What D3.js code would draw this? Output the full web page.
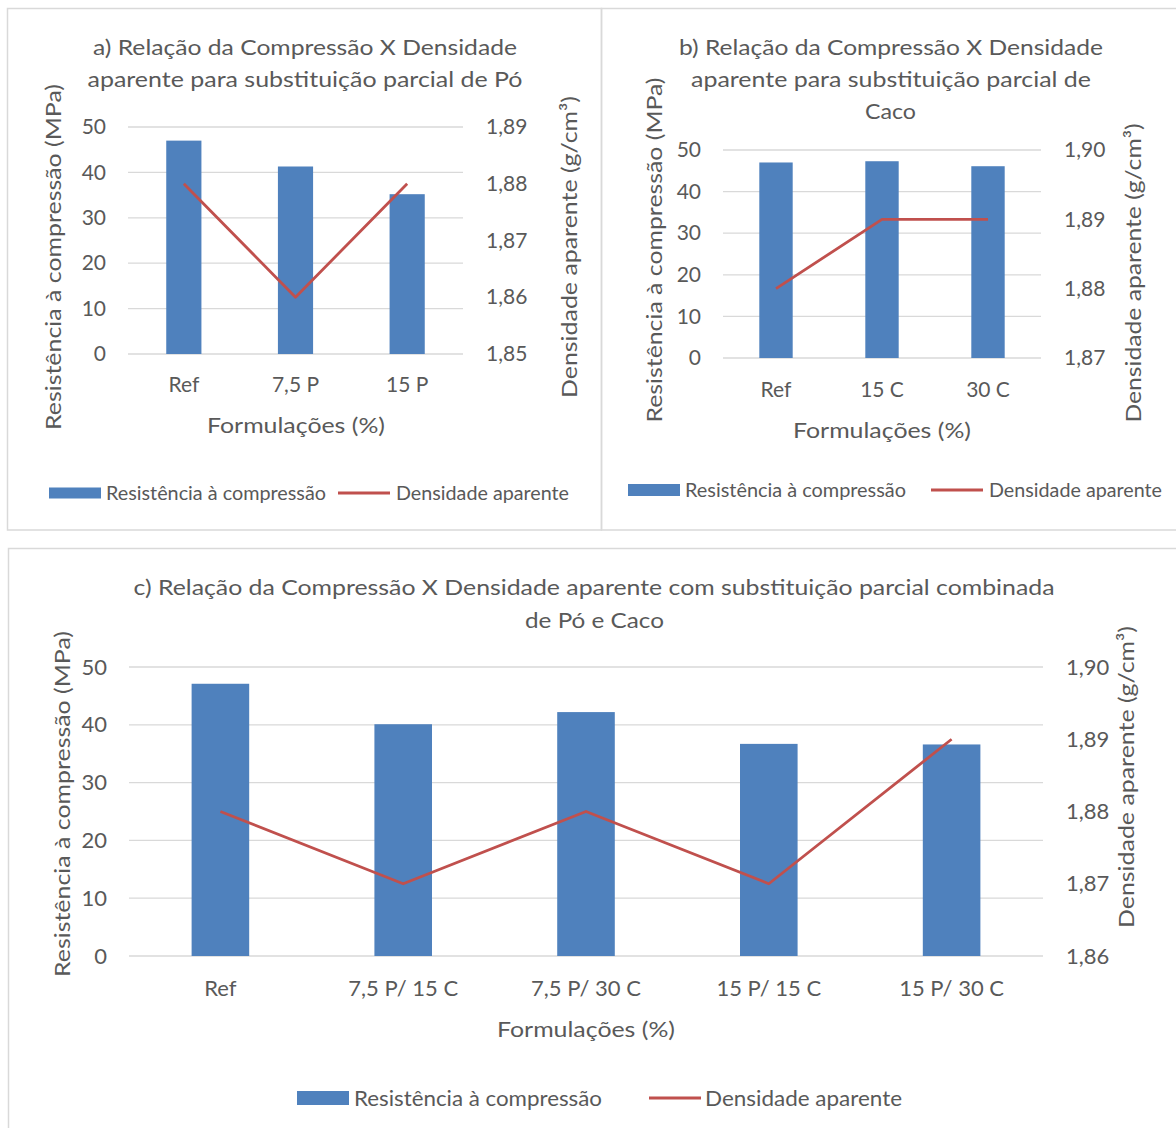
<!DOCTYPE html>
<html><head><meta charset="utf-8">
<script src="https://cdn.jsdelivr.net/npm/d3@7"></script>
<style>
body{margin:0;background:#fff}
svg{display:block}
text{font-family:Lato,'Open Sans',sans-serif;fill:#595959}
</style>
</head><body>
<svg id="chart" width="1176" height="1128"></svg>
<script>
// ---------- DATA ----------
const resTicks = [0, 10, 20, 30, 40, 50];

const catsA = ["Ref", "7,5 P", "15 P"];
const resA = [47.0, 41.3, 35.2];
const densA = [1.88, 1.86, 1.88];
const densTicksA = [1.85, 1.86, 1.87, 1.88, 1.89];
const titleA = ["a) Relação da Compressão X Densidade", "aparente para substituição parcial de Pó"];

const catsB = ["Ref", "15 C", "30 C"];
const resB = [47.0, 47.3, 46.1];
const densB = [1.88, 1.89, 1.89];
const densTicksB = [1.87, 1.88, 1.89, 1.90];
const titleB = ["b) Relação da Compressão X Densidade", "aparente para substituição parcial de", "Caco"];

const catsC = ["Ref", "7,5 P/ 15 C", "7,5 P/ 30 C", "15 P/ 15 C", "15 P/ 30 C"];
const resC = [47.1, 40.1, 42.2, 36.7, 36.6];
const densC = [1.88, 1.87, 1.88, 1.87, 1.89];
const densTicksC = [1.86, 1.87, 1.88, 1.89, 1.90];
const titleC = ["c) Relação da Compressão X Densidade aparente com substituição parcial combinada", "de Pó e Caco"];

const yLabel = "Resistência à compressão (MPa)";
const y2Label = "Densidade aparente (g/cm³)";
const xLabel = "Formulações (%)";
const legendLabels = ["Resistência à compressão", "Densidade aparente"];

// ---------- STYLE ----------
const BAR = "#4F81BD", LINE = "#C0504D", GRID = "#D9D9D9", BORDER = "#D9D9D9";
const fmt2 = d3.format(".2f");
const comma = v => fmt2(v).replace(".", ",");

const svg = d3.select("#chart");

// panel borders
svg.append("rect").attr("x", 7.5).attr("y", 8.5).attr("width", 594).attr("height", 521.5)
  .attr("fill", "none").attr("stroke", BORDER).attr("stroke-width", 1.5);
svg.append("rect").attr("x", 601.5).attr("y", 8.5).attr("width", 600).attr("height", 521.5)
  .attr("fill", "none").attr("stroke", BORDER).attr("stroke-width", 1.5);
svg.append("rect").attr("x", 8.5).attr("y", 548.5).attr("width", 1200).attr("height", 600)
  .attr("fill", "none").attr("stroke", BORDER).attr("stroke-width", 1.5);

function fit(sel, w) {
  if (w) sel.attr("textLength", w).attr("lengthAdjust", "spacingAndGlyphs");
  return sel;
}

function panel(cfg) {
  const g = svg.append("g");
  const x = d3.scaleBand().domain(cfg.cats).range([cfg.x0, cfg.x1])
    .paddingInner(0.685).paddingOuter(0.3425);
  const y = d3.scaleLinear().domain([0, 50]).range([cfg.y1, cfg.y0]);
  const y2 = d3.scaleLinear().domain(d3.extent(cfg.densTicks)).range([cfg.y1, cfg.y0]);

  // gridlines
  g.append("g").selectAll("line").data(resTicks).join("line")
    .attr("x1", cfg.x0).attr("x2", cfg.x1)
    .attr("y1", d => y(d)).attr("y2", d => y(d))
    .attr("stroke", GRID).attr("stroke-width", 1.3);

  // bars
  g.append("g").selectAll("rect").data(cfg.res).join("rect")
    .attr("x", (d, i) => x(cfg.cats[i]))
    .attr("width", x.bandwidth())
    .attr("y", d => y(d))
    .attr("height", d => y(0) - y(d))
    .attr("fill", BAR);

  // line
  const line = d3.line()
    .x((d, i) => x(cfg.cats[i]) + x.bandwidth() / 2)
    .y(d => y2(d));
  g.append("path").datum(cfg.dens).attr("d", line)
    .attr("fill", "none").attr("stroke", LINE).attr("stroke-width", 2.8)
    .attr("stroke-linejoin", "round");

  const ff = "Lato,'Open Sans',sans-serif";
  // left axis
  const la = g.append("g").attr("transform", `translate(${cfg.x0},0)`)
    .call(d3.axisLeft(y).tickValues(resTicks).tickSize(0).tickPadding(22).tickFormat(d3.format("d")));
  la.select(".domain").remove();
  la.selectAll("text").style("font-family", ff).style("font-size", cfg.tickFs + "px").attr("fill", "#595959");

  // right axis
  const ra = g.append("g").attr("transform", `translate(${cfg.x1},0)`)
    .call(d3.axisRight(y2).tickValues(cfg.densTicks).tickSize(0).tickPadding(23).tickFormat(comma));
  ra.select(".domain").remove();
  ra.selectAll("text").style("font-family", ff).style("font-size", cfg.tickFs + "px").attr("fill", "#595959");

  // bottom axis
  const ba = g.append("g").attr("transform", `translate(0,${cfg.y1})`)
    .call(d3.axisBottom(x).tickSize(0).tickPadding(0));
  ba.select(".domain").remove();
  ba.selectAll("text").style("font-family", ff).style("font-size", cfg.tickFs + "px").attr("fill", "#595959")
    .attr("y", cfg.xTickOff).attr("dy", "0.35em");

  // title
  cfg.title.forEach((t, i) => {
    fit(g.append("text").attr("x", cfg.titleX[i]).attr("y", cfg.titleY[i])
      .attr("text-anchor", "middle").attr("dominant-baseline", "central")
      .style("font-size", cfg.titleFs + "px").text(t), cfg.titleW[i]);
  });

  // axis titles
  fit(g.append("text").attr("x", cfg.xTitle[0]).attr("y", cfg.xTitle[1])
    .attr("text-anchor", "middle").attr("dominant-baseline", "central")
    .style("font-size", cfg.axFs + "px").text(xLabel), cfg.xTitle[2]);
  fit(g.append("text").attr("transform", `translate(${cfg.yTitle[0]},${cfg.yTitle[1]}) rotate(-90)`)
    .attr("text-anchor", "middle").attr("dominant-baseline", "central")
    .style("font-size", cfg.axFs + "px").text(yLabel), cfg.yTitle[2]);
  fit(g.append("text").attr("transform", `translate(${cfg.y2Title[0]},${cfg.y2Title[1]}) rotate(-90)`)
    .attr("text-anchor", "middle").attr("dominant-baseline", "central")
    .style("font-size", cfg.axFs + "px").text(y2Label), cfg.y2Title[2]);

  // legend
  const L = cfg.legend;
  g.append("rect").attr("x", L.rx).attr("y", L.y - L.rh / 2).attr("width", 52).attr("height", L.rh).attr("fill", BAR);
  fit(g.append("text").attr("x", L.t1).attr("y", L.y).attr("dominant-baseline", "central")
    .style("font-size", L.fs + "px").text(legendLabels[0]), L.w1);
  g.append("line").attr("x1", L.lx).attr("x2", L.lx + 52).attr("y1", L.y).attr("y2", L.y)
    .attr("stroke", LINE).attr("stroke-width", 2.8);
  fit(g.append("text").attr("x", L.t2).attr("y", L.y).attr("dominant-baseline", "central")
    .style("font-size", L.fs + "px").text(legendLabels[1]), L.w2);
}

panel({
  cats: catsA, res: resA, dens: densA, densTicks: densTicksA, title: titleA,
  x0: 128, x1: 463, y0: 127, y1: 354, tickFs: 21, xTickOff: 31,
  titleFs: 22, titleX: [305, 305], titleY: [46, 78], titleW: [424, 435],
  axFs: 22, xTitle: [296, 424, 178], yTitle: [52, 257, 346], y2Title: [568, 247, 302],
  legend: { rx: 49, rh: 11, y: 493, t1: 106, w1: 220, lx: 338, t2: 396, w2: 173, fs: 18.5 }
});

panel({
  cats: catsB, res: resB, dens: densB, densTicks: densTicksB, title: titleB,
  x0: 723, x1: 1041, y0: 150, y1: 358, tickFs: 21, xTickOff: 32,
  titleFs: 22, titleX: [891, 891, 890.5], titleY: [46, 78, 110], titleW: [424, 400, 51],
  axFs: 22, xTitle: [882, 429, 178], yTitle: [653, 250, 345], y2Title: [1132, 273, 299],
  legend: { rx: 628, rh: 12, y: 490, t1: 685, w1: 221, lx: 931, t2: 989, w2: 173, fs: 18.5 }
});

panel({
  cats: catsC, res: resC, dens: densC, densTicks: densTicksC, title: titleC,
  x0: 129, x1: 1043, y0: 667, y1: 956, tickFs: 22, xTickOff: 32,
  titleFs: 22, titleX: [594, 594.5], titleY: [586, 619], titleW: [921, 139],
  axFs: 22, xTitle: [586, 1028, 178], yTitle: [61.5, 804, 346], y2Title: [1125, 777, 302],
  legend: { rx: 297, rh: 14, y: 1098, t1: 354, w1: 248, lx: 649, t2: 705, w2: 197, fs: 20.5 }
});
</script>
</body></html>
